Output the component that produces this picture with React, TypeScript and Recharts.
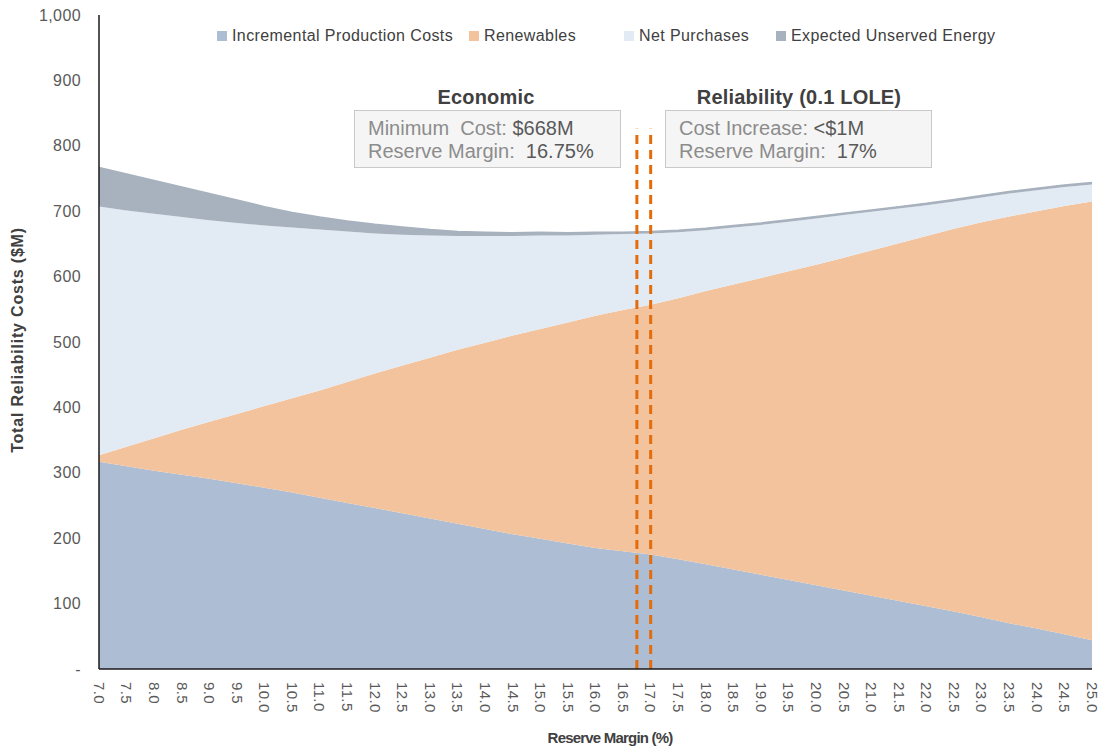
import { AreaChart, Area, XAxis, YAxis, ReferenceLine } from 'recharts'

const margins = [
  7.0, 7.5, 8.0, 8.5, 9.0, 9.5, 10.0, 10.5, 11.0, 11.5, 12.0, 12.5, 13.0,
  13.5, 14.0, 14.5, 15.0, 15.5, 16.0, 16.5, 17.0, 17.5, 18.0, 18.5, 19.0,
  19.5, 20.0, 20.5, 21.0, 21.5, 22.0, 22.5, 23.0, 23.5, 24.0, 24.5, 25.0,
]

const incremental = [
  317, 310, 303, 297, 291, 284, 277, 270, 262, 254, 246, 238, 230,
  222, 214, 206, 199, 192, 185, 180, 175, 168, 160, 152, 144,
  136, 128, 120, 112, 104, 96, 88, 79, 70, 62, 53, 44,
]

const renewables = [
  10, 30, 50, 69, 87, 106, 125, 144, 164, 185, 206, 226, 246,
  266, 285, 304, 321, 338, 355, 369, 382, 399, 418, 436, 454,
  472, 490, 509, 528, 547, 566, 585, 604, 622, 638, 655, 671,
]

const netPurchases = [
  380, 361, 343, 325, 308, 292, 276, 261, 246, 230, 214, 200, 187,
  174, 163, 152, 143, 133, 124, 116, 109, 101, 93, 87, 81,
  76, 71, 65, 59, 53, 47, 42, 38, 35, 32, 29, 26,
]

const unserved = [
  60, 56, 51, 46, 41, 35, 29, 23, 19, 16, 14, 12, 9,
  7, 6, 5, 5, 4, 4, 3, 3, 3, 3, 3, 3,
  3, 3, 3, 3, 3, 3, 3, 3, 3, 3, 3, 3,
]

const yTicks = [0, 100, 200, 300, 400, 500, 600, 700, 800, 900, 1000]

const economicMargin = 16.75
const reliabilityMargin = 17.0

const series = [
  { key: 'incremental', name: 'Incremental Production Costs', color: '#adbdd4', values: incremental },
  { key: 'renewables', name: 'Renewables', color: '#f2c39c', values: renewables },
  { key: 'netPurchases', name: 'Net Purchases', color: '#e2eaf4', values: netPurchases },
  { key: 'unserved', name: 'Expected Unserved Energy', color: '#a7b2be', values: unserved },
]

const data = margins.map((m, i) => {
  const row: Record<string, number> = { margin: m }
  series.forEach(s => { row[s.key] = s.values[i] })
  return row
})

const FONT = '"Liberation Sans", Arial, sans-serif'

const XTick = ({ x, y, payload }: any) => (
  <text
    x={x}
    y={y}
    transform={`rotate(90, ${x}, ${y})`}
    textAnchor="start"
    dy="0.35em"
    fontSize={15}
    letterSpacing={0.4}
    fill="#595959"
    fontFamily={FONT}
  >
    {Number(payload.value).toFixed(1)}
  </text>
)

const fmtY = (v: number) => (v === 0 ? '-' : v.toLocaleString('en-US'))

const legendPos = [217, 469, 624, 776]

function InfoBox({ left, title, titleCenter, rows }: {
  left: number
  title: string
  titleCenter: number
  rows: [string, string][]
}) {
  return (
    <>
      <div style={{
        position: 'absolute', left: titleCenter - 150, width: 300, top: 86,
        textAlign: 'center', fontWeight: 'bold', fontSize: 20, letterSpacing: 0.2, color: '#404040',
      }}>{title}</div>
      <div style={{
        position: 'absolute', left, top: 110, width: 267, height: 58,
        background: '#f5f5f5', border: '1px solid #c9c9c9', boxSizing: 'border-box',
        padding: '6px 0 0 13px', fontSize: 20, lineHeight: '23px', whiteSpace: 'pre',
      }}>
        {rows.map(([label, value]) => (
          <div key={label}>
            <span style={{ color: '#8c8c8c' }}>{label}</span>
            <span style={{ color: '#595959' }}>{value}</span>
          </div>
        ))}
      </div>
    </>
  )
}

export default function App() {
  return (
    <div style={{
      position: 'fixed', left: 0, top: 0, width: 1100, height: 749,
      overflow: 'hidden', background: '#fff', fontFamily: FONT,
    }}>
      <AreaChart
        width={1100}
        height={749}
        data={data}
        margin={{ top: 15, right: 8, bottom: 20, left: 8 }}
      >
        <XAxis
          dataKey="margin"
          type="number"
          domain={[7, 25]}
          ticks={margins}
          interval={0}
          height={60}
          tickLine={false}
          tickSize={0}
          tickMargin={13}
          tick={<XTick />}
          axisLine={{ stroke: '#1a1a1a', strokeWidth: 1.5 }}
        />
        <YAxis
          type="number"
          domain={[0, 1000]}
          ticks={yTicks}
          width={91}
          tickLine={false}
          tickSize={0}
          tickMargin={18}
          tickFormatter={fmtY}
          tick={{ fontSize: 16, fill: '#595959', fontFamily: FONT, letterSpacing: 0.4 }}
          axisLine={{ stroke: '#1a1a1a', strokeWidth: 1.5 }}
        />
        {series.map(s => (
          <Area
            key={s.key}
            type="linear"
            dataKey={s.key}
            name={s.name}
            stackId="1"
            fill={s.color}
            fillOpacity={1}
            stroke={s.key === 'unserved' ? s.color : 'none'}
            strokeWidth={s.key === 'unserved' ? 1.5 : 0}
            isAnimationActive={false}
          />
        ))}
        <ReferenceLine
          segment={[{ x: economicMargin, y: 0 }, { x: economicMargin, y: 826 }]}
          stroke="#e46c0a"
          strokeWidth={3}
          strokeDasharray="9 6"
        />
        <ReferenceLine
          segment={[{ x: reliabilityMargin, y: 0 }, { x: reliabilityMargin, y: 826 }]}
          stroke="#e46c0a"
          strokeWidth={3}
          strokeDasharray="9 6"
        />
      </AreaChart>

      {series.map((s, i) => (
        <div key={s.key} style={{
          position: 'absolute', left: legendPos[i], top: 27, display: 'flex',
          alignItems: 'center', fontSize: 16, letterSpacing: 0.4, color: '#404040', whiteSpace: 'nowrap',
        }}>
          <span style={{ width: 10, height: 10, background: s.color, marginRight: 5, display: 'inline-block' }} />
          {s.name}
        </div>
      ))}

      <InfoBox
        left={354}
        title="Economic"
        titleCenter={486}
        rows={[['Minimum  Cost: ', '$668M'], ['Reserve Margin:  ', '16.75%']]}
      />
      <InfoBox
        left={665}
        title="Reliability (0.1 LOLE)"
        titleCenter={799}
        rows={[['Cost Increase: ', '<$1M'], ['Reserve Margin:  ', '17%']]}
      />

      <div style={{
        position: 'absolute', left: 474, width: 272, top: 729, textAlign: 'center',
        fontWeight: 'bold', fontSize: 15, letterSpacing: -0.8, color: '#404040',
      }}>Reserve Margin (%)</div>
      <div style={{
        position: 'absolute', left: 18 - 150, width: 300, top: 341 - 10, textAlign: 'center',
        fontWeight: 'bold', fontSize: 16, letterSpacing: 0.8, color: '#404040', transform: 'rotate(-90deg)',
      }}>Total Reliability Costs ($M)</div>
    </div>
  )
}
